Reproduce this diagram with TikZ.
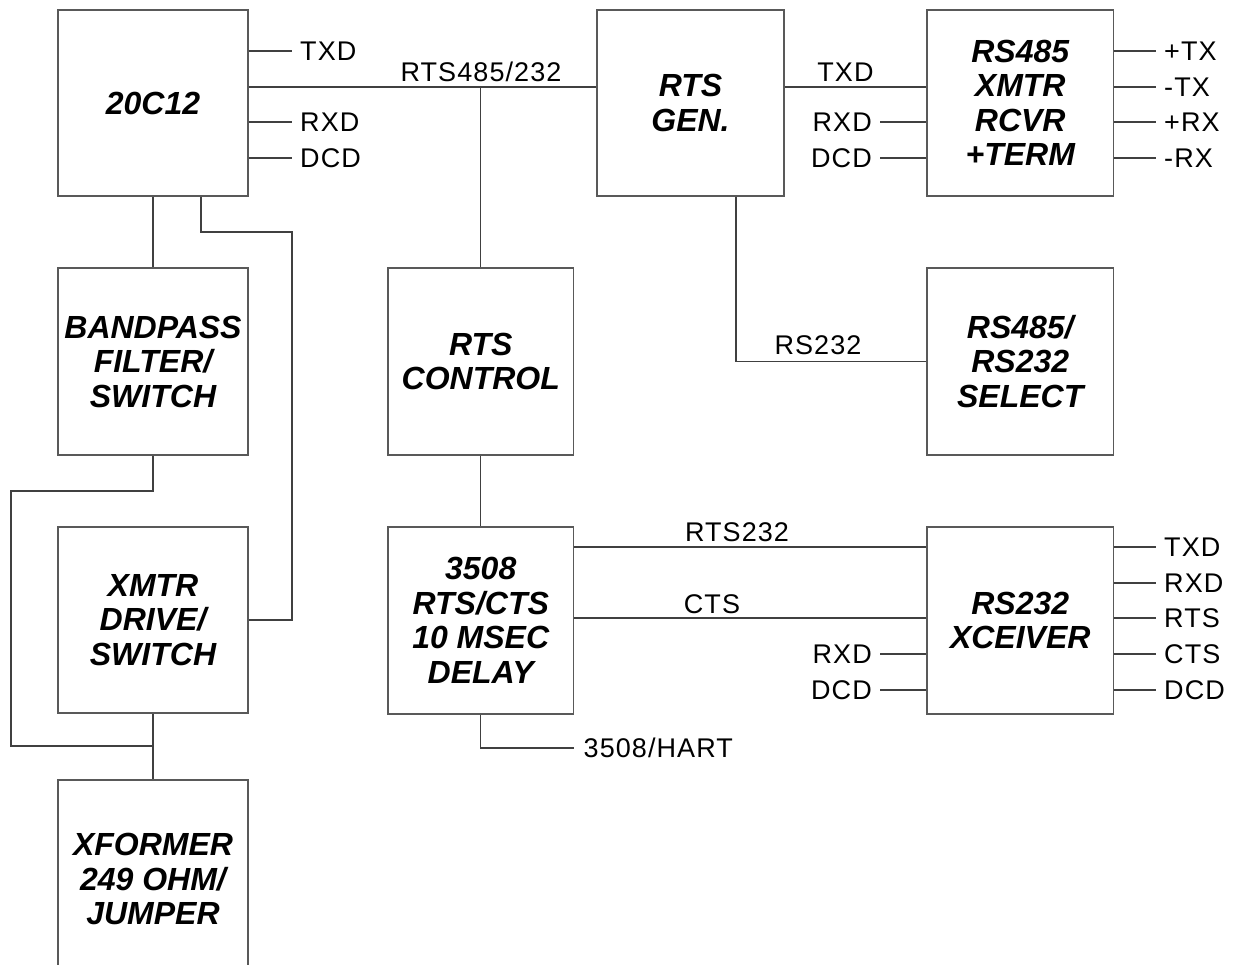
\documentclass[tikz,border=0pt]{standalone}
\usepackage{fontspec}
\newfontfamily\lblfont[LetterSpace=4]{Liberation Sans}
\newfontfamily\blkfamily{Liberation Sans}
\tikzset{
  wire/.style={draw=black!75, line width=1.3pt},
  blk/.style={draw=black!65, line width=1.3pt, rectangle, align=center,
    font={\blkfamily\bfseries\itshape\fontsize{32}{34.5}\selectfont}},
  lbl/.style={inner ysep=0pt, font={\lblfont\fontsize{27}{30}\selectfont}, text height=19pt, text depth=0pt},
  lblL/.style={lbl, anchor=west, inner xsep=8pt},
  lblR/.style={lbl, anchor=east, inner xsep=8pt},
  lblT/.style={inner sep=0pt, anchor=base, font={\lblfont\fontsize{27}{30}\selectfont}},
}
\begin{document}
\begin{tikzpicture}[x=1pt,y=-1pt]
\useasboundingbox (0,0) rectangle (1239,965);
% boxes
\node[blk, minimum width=190pt, minimum height=186pt] (c20) at (153,103) {20C12};
\node[blk, minimum width=190pt, minimum height=187pt] (bp) at (153,361.5) {BANDPASS\\FILTER/\\SWITCH};
\node[blk, minimum width=190pt, minimum height=186pt] (xd) at (153,620) {XMTR\\DRIVE/\\SWITCH};
\node[blk, minimum width=190pt, minimum height=198pt] (xf) at (153,879) {XFORMER\\249 OHM/\\JUMPER};
\node[blk, minimum width=185.5pt, minimum height=187pt] (rc) at (480.75,361.5) {RTS\\CONTROL};
\node[blk, minimum width=185.5pt, minimum height=187pt] (dl) at (480.75,620.5) {3508\\RTS/CTS\\10 MSEC\\DELAY};
\node[blk, minimum width=187pt, minimum height=186pt] (rg) at (690.5,103) {RTS\\GEN.};
\node[blk, minimum width=186.5pt, minimum height=186pt] (r485) at (1020.25,103) {RS485\\XMTR\\RCVR\\+TERM};
\node[blk, minimum width=186.5pt, minimum height=187pt] (sel) at (1020.25,361.5) {RS485/\\RS232\\SELECT};
\node[blk, minimum width=186.5pt, minimum height=187pt] (xc) at (1020.25,620.5) {RS232\\XCEIVER};

% 20C12 stubs
\node[lblL] (a1) at (292,51) {TXD};
\node[lblL] (a2) at (292,122) {RXD};
\node[lblL] (a3) at (292,158) {DCD};
\draw[wire] (a1.west -| c20.east) -- (a1.west);
\draw[wire] (a2.west -| c20.east) -- (a2.west);
\draw[wire] (a3.west -| c20.east) -- (a3.west);

% RTS485/232 bus
\coordinate (bus) at (480.75,87);
\draw[wire] (bus -| c20.east) -- (bus -| rg.west);
\node[lblT] (t485) at (481,82) {RTS485/232};
\draw[wire] (rc.north) -- (bus);

% left column
\draw[wire] (c20.south) -- (bp.north);
\coordinate (la) at (292,232);
\draw[wire] ([xshift=48pt]c20.south) |- (la) |- (xd.east);
\coordinate (lb) at (11,491);
\coordinate (lc) at (11,746);
\draw[wire] (bp.south) |- (lb) -- (lc) -- (xd.south |- lc);
\draw[wire] (xd.south) -- (xf.north);

% middle column
\draw[wire] (rc.south) -- (dl.north);
\node[lblL, inner xsep=10pt] (hart) at (573.5,748) {3508/HART};
\draw[wire] (dl.south) |- (hart.west);

\coordinate (r232) at (737,547);
\draw[wire] (r232 -| dl.east) -- (r232 -| xc.west);
\node[lblT] (tr232) at (737,541) {RTS232};
\coordinate (cts) at (712,618);
\draw[wire] (cts -| dl.east) -- (cts -| xc.west);
\node[lblT] (tcts) at (712,613) {CTS};

% XCEIVER stubs
\node[lblR] (b1) at (880,654) {RXD};
\node[lblR] (b2) at (880,690) {DCD};
\draw[wire] (b1.east) -- (b1.east -| xc.west);
\draw[wire] (b2.east) -- (b2.east -| xc.west);
\node[lblL] (c1) at (1156,547) {TXD};
\node[lblL] (c2) at (1156,583) {RXD};
\node[lblL] (c3) at (1156,618) {RTS};
\node[lblL] (c4) at (1156,654) {CTS};
\node[lblL] (c5) at (1156,690) {DCD};
\foreach \n in {c1,c2,c3,c4,c5} \draw[wire] (\n.west -| xc.east) -- (\n.west);

% RTS GEN connections
\coordinate (gt) at (845.5,87);
\draw[wire] (gt -| rg.east) -- (gt -| r485.west);
\node[lblT] (tgt) at (845.5,82) {TXD};
\node[lblR] (d1) at (880,122) {RXD};
\node[lblR] (d2) at (880,158) {DCD};
\draw[wire] (d1.east) -- (d1.east -| r485.west);
\draw[wire] (d2.east) -- (d2.east -| r485.west);
\node[lblL] (e1) at (1156,51) {+TX};
\node[lblL] (e2) at (1156,87) {-TX};
\node[lblL] (e3) at (1156,122) {+RX};
\node[lblL] (e4) at (1156,158) {-RX};
\foreach \n in {e1,e2,e3,e4} \draw[wire] (\n.west -| r485.east) -- (\n.west);

\draw[wire] ([xshift=45.5pt]rg.south) |- (sel.west);
\node[lblT] (trs) at (818,355) {RS232};
\end{tikzpicture}
\end{document}
